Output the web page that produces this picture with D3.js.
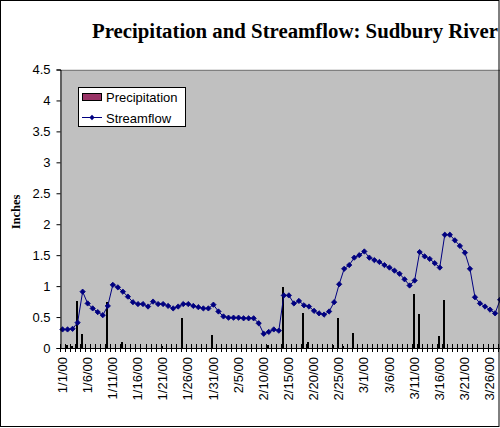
<!DOCTYPE html>
<html>
<head>
<meta charset="utf-8">
<script src="https://cdn.jsdelivr.net/npm/d3@7"></script>
<style>
body { margin: 0; background: #fff; }
svg { display: block; }
</style>
</head>
<body>
<svg id="chart" width="500" height="428"></svg>
<script>
// one category per day, 1/1/00 .. 3/31/00
var days = d3.timeDay.range(new Date(2000, 0, 1), new Date(2000, 3, 1)).map(d3.timeFormat("%-m/%-d/%y"));

// daily precipitation (inches), 1/1/00 .. 3/28/00
var precipitation = [
	0, 0.05, 0.04, 0.76, 0.23, 0, 0, 0, 0, 0.74,
	0, 0, 0.10, 0, 0, 0, 0, 0, 0, 0,
	0.03, 0, 0, 0, 0.48, 0.02, 0, 0, 0, 0,
	0.21, 0, 0, 0, 0.02, 0.02, 0, 0, 0, 0,
	0, 0.05, 0, 0, 0.98, 0, 0.02, 0, 0.56, 0.10,
	0.02, 0, 0, 0, 0.05, 0.48, 0.03, 0, 0.24, 0,
	0, 0.01, 0, 0, 0, 0, 0, 0, 0.01, 0,
	0.87, 0.55, 0, 0, 0, 0.19, 0.77, 0, 0, 0,
	0, 0, 0, 0, 0, 0, 0, 0
];

// daily streamflow (inches), 1/1/00 .. 3/28/00
var streamflow = [
	0.30, 0.30, 0.31, 0.41, 0.91, 0.72, 0.64, 0.58, 0.53, 0.68,
	1.02, 0.98, 0.91, 0.83, 0.74, 0.71, 0.71, 0.67, 0.75, 0.71,
	0.71, 0.68, 0.64, 0.67, 0.71, 0.71, 0.68, 0.66, 0.64, 0.64,
	0.70, 0.59, 0.51, 0.49, 0.49, 0.49, 0.48, 0.48, 0.48, 0.40,
	0.23, 0.26, 0.30, 0.28, 0.85, 0.85, 0.72, 0.76, 0.69, 0.67,
	0.60, 0.56, 0.54, 0.59, 0.74, 1.03, 1.28, 1.34, 1.46, 1.50,
	1.56, 1.46, 1.42, 1.39, 1.34, 1.30, 1.25, 1.20, 1.11, 1.01,
	1.09, 1.55, 1.48, 1.44, 1.37, 1.30, 1.83, 1.83, 1.74, 1.65,
	1.54, 1.28, 0.82, 0.72, 0.67, 0.62, 0.56, 0.78
];

var yTicks = [0, 0.5, 1, 1.5, 2, 2.5, 3, 3.5, 4, 4.5];
var labelDays = ["1/1/00", "1/6/00", "1/11/00", "1/16/00", "1/21/00", "1/26/00", "1/31/00",
	"2/5/00", "2/10/00", "2/15/00", "2/20/00", "2/25/00", "3/1/00", "3/6/00",
	"3/11/00", "3/16/00", "3/21/00", "3/26/00"];

var seriesNames = ["Precipitation", "Streamflow"];
var titleText = "Precipitation and Streamflow: Sudbury River";

var svg = d3.select("#chart");

var x = d3.scaleBand().domain(days).range([60, 60 + days.length * 5.03]).padding(0);
var y = d3.scaleLinear().domain([0, 4.5]).range([348, 69.5]);

var BAR_COLOR = "#993366";
var LINE_COLOR = "#000080";

function cx(day) { return x(day) + x.bandwidth() / 2; }

// title
svg.append("text")
	.attr("x", 92).attr("y", 38)
	.attr("font-family", "'Liberation Serif', serif")
	.attr("font-weight", "bold")
	.attr("font-size", 20.8)
	.text(titleText);

// plot area
svg.append("rect")
	.attr("x", 60).attr("y", y(4.5))
	.attr("width", 440).attr("height", y(0) - y(4.5))
	.attr("fill", "#c0c0c0");
svg.append("line")
	.attr("x1", 60).attr("x2", 500)
	.attr("y1", Math.round(y(4.5)) + 0.5).attr("y2", Math.round(y(4.5)) + 0.5)
	.attr("stroke", "#808080");

// precipitation bars
var rain = precipitation.map(function(v, i) { return { day: days[i], value: v }; })
	.filter(function(d) { return d.value > 0; });

svg.append("g").selectAll("rect")
	.data(rain)
	.join("rect")
	.attr("x", function(d) { return Math.round(cx(d.day)) - 1.5; })
	.attr("y", function(d) { return Math.round(y(d.value)) + 0.5; })
	.attr("width", 1)
	.attr("height", function(d) { return Math.max(0, 348 - Math.round(y(d.value)) - 1); })
	.attr("fill", BAR_COLOR)
	.attr("stroke", "#000")
	.attr("stroke-width", 1);

// streamflow line
var flow = streamflow.map(function(v, i) { return { day: days[i], value: v }; });

var line = d3.line()
	.x(function(d) { return cx(d.day); })
	.y(function(d) { return y(d.value); });

svg.append("path")
	.datum(flow)
	.attr("d", line)
	.attr("fill", "none")
	.attr("stroke", LINE_COLOR)
	.attr("stroke-width", 1);

var marker = d3.symbol().type(d3.symbolSquare).size(14);
svg.append("g").selectAll("path")
	.data(flow)
	.join("path")
	.attr("d", marker)
	.attr("transform", function(d) {
		return "translate(" + cx(d.day) + "," + y(d.value) + ") rotate(45)";
	})
	.attr("fill", LINE_COLOR)
	.attr("stroke", LINE_COLOR)
	.attr("stroke-width", 0.8);

// y axis
var yAxis = svg.append("g")
	.attr("transform", "translate(60.5,0)")
	.call(d3.axisLeft(y).tickValues(yTicks).tickSize(4).tickPadding(6).tickFormat(d3.format("")));
yAxis.select(".domain").attr("stroke", "#000");
yAxis.selectAll(".tick line").attr("stroke", "#000");
yAxis.selectAll("text")
	.attr("font-family", "'Liberation Sans', Arial, sans-serif")
	.attr("font-size", 13)
	.attr("fill", "#000");

// x axis line and day ticks (crossing)
svg.append("line")
	.attr("x1", 60).attr("x2", 500)
	.attr("y1", 348.5).attr("y2", 348.5)
	.attr("stroke", "#000");
svg.append("g").selectAll("line")
	.data(days)
	.join("line")
	.attr("x1", function(d) { return Math.round(x(d)) + 0.5; })
	.attr("x2", function(d) { return Math.round(x(d)) + 0.5; })
	.attr("y1", 344).attr("y2", 352)
	.attr("stroke", "#000");

// x labels
svg.append("g").selectAll("text")
	.data(labelDays)
	.join("text")
	.attr("transform", function(d) {
		return "translate(" + cx(d) + ",357) rotate(-90)";
	})
	.attr("text-anchor", "end")
	.attr("dy", "0.32em")
	.attr("font-family", "'Liberation Sans', Arial, sans-serif")
	.attr("font-size", 13)
	.text(function(d) { return d; });

// y axis title
svg.append("text")
	.attr("transform", "translate(20,212) rotate(-90)")
	.attr("text-anchor", "middle")
	.attr("font-family", "'Liberation Serif', serif")
	.attr("font-weight", "bold")
	.attr("font-size", 12.5)
	.text("Inches");

// legend
var legend = svg.append("g");
legend.append("rect")
	.attr("x", 78.5).attr("y", 87.5)
	.attr("width", 107).attr("height", 39)
	.attr("fill", "#fff").attr("stroke", "#000");
legend.append("rect")
	.attr("x", 82.5).attr("y", 93.5)
	.attr("width", 19).attr("height", 7)
	.attr("fill", BAR_COLOR).attr("stroke", "#000");
legend.append("line")
	.attr("x1", 82).attr("x2", 102)
	.attr("y1", 117.5).attr("y2", 117.5)
	.attr("stroke", LINE_COLOR);
legend.append("path")
	.attr("d", marker)
	.attr("transform", "translate(92,117.5) rotate(45)")
	.attr("fill", LINE_COLOR);
legend.selectAll("text.lab")
	.data(seriesNames)
	.join("text")
	.attr("class", "lab")
	.attr("x", 106)
	.attr("y", function(d, i) { return 102 + i * 20.5; })
	.attr("font-family", "'Liberation Sans', Arial, sans-serif")
	.attr("font-size", 13)
	.text(function(d) { return d; });

// outer frame
svg.append("rect")
	.attr("x", 0.5).attr("y", 0.5)
	.attr("width", 498.5).attr("height", 426)
	.attr("fill", "none").attr("stroke", "#000");
</script>
</body>
</html>
